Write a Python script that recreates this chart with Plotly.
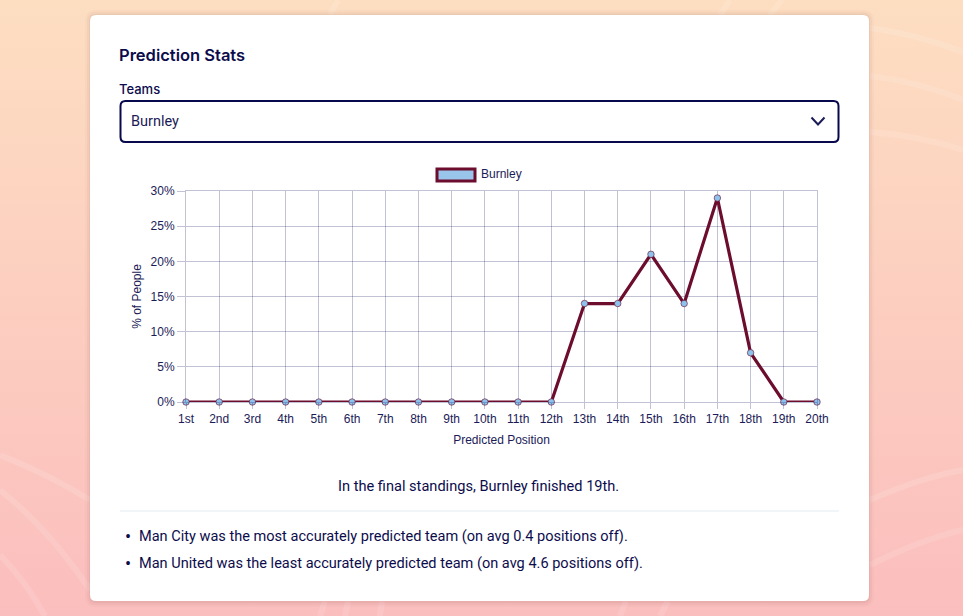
import plotly.graph_objects as go

W, H = 963, 616

positions = ['1st', '2nd', '3rd', '4th', '5th', '6th', '7th', '8th', '9th', '10th',
             '11th', '12th', '13th', '14th', '15th', '16th', '17th', '18th', '19th', '20th']
burnley = [0, 0, 0, 0, 0, 0, 0, 0, 0, 0, 0, 0, 14, 14, 21, 14, 29, 7, 0, 0]
y_ticks = [0, 5, 10, 15, 20, 25, 30]
y_labels = ['0%', '5%', '10%', '15%', '20%', '25%', '30%']

INK = '#0c0c4c'
TICK = '#1b1b57'
GRID = 'rgba(30,30,100,0.27)'
MAROON = '#6c0d2d'
SKY = '#98c5e9'


def fx(x):
    return x / W


def fy(y):
    return 1 - y / H


def path(points):
    # points are (cmd, x, y, ...) in page pixels
    out = []
    for p in points:
        nums = p[1:]
        xy = [f"{fx(nums[i])},{fy(nums[i + 1])}" for i in range(0, len(nums), 2)]
        out.append(p[0] + ' ' + ' '.join(xy))
    return ' '.join(out)


def round_rect(x0, y0, x1, y1, r):
    return path([('M', x0 + r, y0), ('L', x1 - r, y0), ('Q', x1, y0, x1, y0 + r),
                 ('L', x1, y1 - r), ('Q', x1, y1, x1 - r, y1), ('L', x0 + r, y1),
                 ('Q', x0, y1, x0, y1 - r), ('L', x0, y0 + r), ('Q', x0, y0, x0 + r, y0)]) + ' Z'


shapes = []

# faint streaks on the background
streaks = [
    [('M', 870, 28), ('Q', 920, 35, 963, 52)],
    [('M', 870, 76), ('Q', 920, 82, 963, 100)],
    [('M', 870, 132), ('Q', 920, 136, 963, 150)],
    [('M', 870, 500), ('Q', 920, 478, 963, 470)],
    [('M', 870, 565), ('Q', 920, 540, 963, 530)],
    [('M', 0, 490), ('Q', 50, 530, 90, 590)],
    [('M', 0, 555), ('Q', 25, 580, 45, 616)],
    [('M', 0, 455), ('Q', 50, 475, 90, 500)],
    [('M', 320, 616), ('L', 325, 601)],
    [('M', 345, 616), ('L', 348, 601)],
    [('M', 380, 616), ('L', 382, 601)],
    [('M', 620, 616), ('L', 626, 601)],
    [('M', 660, 616), ('L', 668, 601)],
    [('M', 330, 15), ('L', 338, 0)],
    [('M', 720, 15), ('L', 730, 0)],
    [('M', 770, 15), ('L', 782, 0)],
]
for s in streaks:
    shapes.append(dict(type='path', xref='paper', yref='paper', layer='below', path=path(s),
                       line=dict(color='rgba(255,255,255,0.12)', width=6)))

# card with a soft shadow
for grow, alpha in [(5, 0.025), (3, 0.035), (1, 0.05)]:
    shapes.append(dict(type='path', xref='paper', yref='paper', layer='below',
                       path=round_rect(90 - grow, 15 - grow, 869 + grow, 601 + grow + 1, 6 + grow),
                       fillcolor=f'rgba(90,40,40,{alpha})', line=dict(width=0)))
shapes.append(dict(type='path', xref='paper', yref='paper', layer='below',
                   path=round_rect(90, 15, 869, 601, 6), fillcolor='white', line=dict(width=0)))

# select box and chevron
shapes.append(dict(type='path', xref='paper', yref='paper', layer='below',
                   path=round_rect(120.5, 101, 838.5, 142, 5), fillcolor='white',
                   line=dict(color='#08084c', width=2)))
shapes.append(dict(type='path', xref='paper', yref='paper', layer='below',
                   path=path([('M', 811.5, 117.5), ('L', 818, 124.5), ('L', 824.5, 117.5)]),
                   line=dict(color='#1b1b57', width=2)))

# divider
shapes.append(dict(type='line', xref='paper', yref='paper', layer='below',
                   x0=fx(120), x1=fx(839), y0=fy(511), y1=fy(511),
                   line=dict(color='#eef2f6', width=1.5)))

# legend swatch
shapes.append(dict(type='rect', xref='paper', yref='paper', layer='below',
                   x0=fx(437), x1=fx(475), y0=fy(181), y1=fy(169),
                   fillcolor=SKY, line=dict(color=MAROON, width=3)))


def label(text, x, y, size, family='Roboto', anchor='left', color=INK, weight=400):
    return dict(text=text, x=fx(x), y=fy(y), xref='paper', yref='paper', showarrow=False,
                xanchor=anchor, yanchor='middle',
                font=dict(family=family, size=size, color=color, weight=weight))


annotations = [
    label('Prediction Stats', 116.5, 55, 16.5, family='Inter', weight=600),
    label('Teams', 116.5, 88.5, 13, family='Inter', weight=500),
    label('Burnley', 128.5, 121.5, 14.5, color='#1b1b57'),
    label('Burnley', 479, 174.5, 12, family='Liberation Sans', color=TICK),
    label('In the final standings, Burnley finished 19th.', 478.5, 486, 14.6, anchor='center'),
    label('•', 122.5, 536, 18),
    label('Man City was the most accurately predicted team (on avg 0.4 positions off).', 136.5, 536, 14.55),
    label('•', 122.5, 563, 18),
    label('Man United was the least accurately predicted team (on avg 4.6 positions off).', 136.5, 563, 14.55),
]

fig = go.Figure()
fig.add_trace(go.Scatter(
    x=positions, y=burnley, name='Burnley', mode='lines+markers', cliponaxis=False,
    line=dict(color=MAROON, width=3.2),
    marker=dict(color='#8dc2ec', size=6.5, line=dict(color='rgba(108,13,45,0.6)', width=1)),
    showlegend=False,
))

fig.update_layout(
    width=W, height=H, margin=dict(l=0, r=0, t=0, b=0, autoexpand=False),
    paper_bgcolor='rgba(0,0,0,0)', plot_bgcolor='rgba(0,0,0,0)',
    font=dict(family='Liberation Sans', size=12, color=TICK),
    shapes=shapes, annotations=annotations,
    xaxis=dict(domain=[fx(186), fx(817)], type='category', range=[0, 19],
               showgrid=True, gridcolor=GRID, gridwidth=1, showline=True, linecolor=GRID,
               mirror=True, zeroline=False, ticks='outside', ticklen=6, tickcolor=GRID,
               tickangle=0, tickfont=dict(size=12, color=TICK),
               title=dict(text='Predicted Position', font=dict(size=12, color=TICK), standoff=10)),
    yaxis=dict(domain=[fy(402), fy(191)], range=[0, 30], tickvals=y_ticks, ticktext=y_labels,
               showgrid=True, gridcolor=GRID, gridwidth=1, showline=True, linecolor=GRID,
               mirror=True, zeroline=False, ticks='outside', ticklen=8, tickcolor=GRID,
               tickfont=dict(size=12, color=TICK),
               title=dict(text='% of People', font=dict(size=12, color=TICK), standoff=6)),
)

# page background and no body margin
page_css = """
document.documentElement.style.background = 'linear-gradient(#fddec1, #fbbebe)';
document.documentElement.style.minHeight = '100%';
document.body.style.margin = '0';
document.body.style.background = 'transparent';
"""
fig.write_html("out.html", config=dict(displayModeBar=False), post_script=page_css)
